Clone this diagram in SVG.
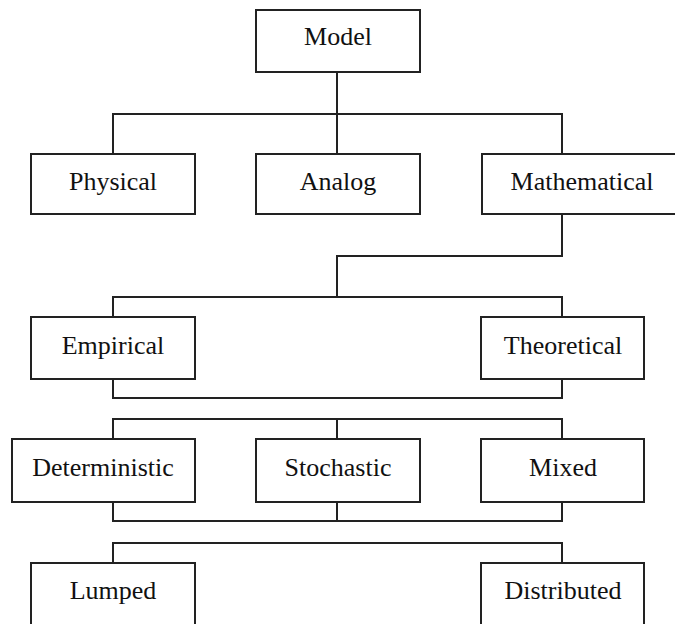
<svg xmlns="http://www.w3.org/2000/svg" width="675" height="624" viewBox="0 0 675 624">
<style>
.box{fill:#fff;stroke:#222;stroke-width:2}
.lbl{font-family:"Liberation Serif","Times New Roman",serif;font-size:26px;fill:#111;text-anchor:middle}
.con{fill:none;stroke:#222;stroke-width:2}
</style>
<rect width="675" height="624" fill="#fff"/>
<g id="connectors">
<path class="con" d="M337,72V114M113,154V114H562V154M337,114V154"/>
<path class="con" d="M562,214V256H337V297M113,317V297H562V317"/>
<path class="con" d="M113,379V398H562V379"/>
<path class="con" d="M113,439V419H562V439M337,419V439"/>
<path class="con" d="M113,502V521H562V502M337,502V521"/>
<path class="con" d="M113,563V543H562V563"/>
</g>
<g id="model"><rect class="box" x="256" y="10" width="164" height="62"/><text class="lbl" x="338" y="45">Model</text></g>
<g id="physical"><rect class="box" x="31" y="154" width="164" height="60"/><text class="lbl" x="113" y="190">Physical</text></g>
<g id="analog"><rect class="box" x="256" y="154" width="164" height="60"/><text class="lbl" x="338" y="190">Analog</text></g>
<g id="mathematical"><rect class="box" x="482" y="154" width="200" height="60"/><text class="lbl" x="582" y="190">Mathematical</text></g>
<g id="empirical"><rect class="box" x="31" y="317" width="164" height="62"/><text class="lbl" x="113" y="354">Empirical</text></g>
<g id="theoretical"><rect class="box" x="481" y="317" width="163" height="62"/><text class="lbl" x="563" y="354">Theoretical</text></g>
<g id="deterministic"><rect class="box" x="12" y="439" width="183" height="63"/><text class="lbl" x="103" y="476">Deterministic</text></g>
<g id="stochastic"><rect class="box" x="256" y="439" width="164" height="63"/><text class="lbl" x="338" y="476">Stochastic</text></g>
<g id="mixed"><rect class="box" x="481" y="439" width="163" height="63"/><text class="lbl" x="563" y="476">Mixed</text></g>
<g id="lumped"><rect class="box" x="31" y="563" width="164" height="62"/><text class="lbl" x="113" y="599">Lumped</text></g>
<g id="distributed"><rect class="box" x="481" y="563" width="163" height="62"/><text class="lbl" x="563" y="599">Distributed</text></g>
</svg>
